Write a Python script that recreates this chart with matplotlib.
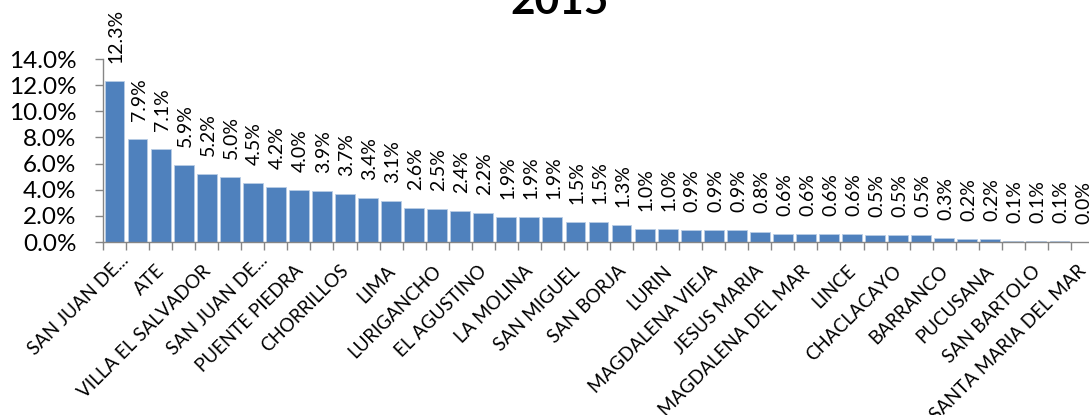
import matplotlib
matplotlib.use("Agg")
import matplotlib.pyplot as plt
from matplotlib.ticker import FuncFormatter, MultipleLocator, FixedLocator
import matplotlib.transforms as mtransforms

values = [12.3, 7.9, 7.1, 5.9, 5.2, 5.0, 4.5, 4.2, 4.0, 3.9, 3.7, 3.4,
          3.1, 2.6, 2.5, 2.4, 2.2, 1.9, 1.9, 1.9, 1.5, 1.5, 1.3, 1.0, 1.0, 0.9, 0.9,
          0.9, 0.8, 0.6, 0.6, 0.6, 0.6, 0.5, 0.5, 0.5, 0.3, 0.2, 0.2, 0.1, 0.1, 0.1, 0.0]
shown_labels = ["SAN JUAN DE...", "ATE", "VILLA EL SALVADOR", "SAN JUAN DE...",
                "PUENTE PIEDRA", "CHORRILLOS", "LIMA", "LURIGANCHO", "EL AGUSTINO",
                "LA MOLINA", "SAN MIGUEL", "SAN BORJA", "LURIN", "MAGDALENA VIEJA",
                "JESUS MARIA", "MAGDALENA DEL MAR", "LINCE", "CHACLACAYO", "BARRANCO",
                "PUCUSANA", "SAN BARTOLO", "SANTA MARIA DEL MAR"]
title = "2015"

plt.rcParams['font.family'] = ['Lato', 'DejaVu Sans']

W, H = 1089, 415
DPI = 100
fig = plt.figure(figsize=(W / DPI, H / DPI), dpi=DPI)
left, right, top, bottom = 103, 1094, 59, 242
ax = fig.add_axes([left / W, 1 - bottom / H, (right - left) / W, (bottom - top) / H])

n = len(values)
x = list(range(n))
ax.bar(x, values, width=0.86, color="#4F81BD", edgecolor="#B9CDE5", linewidth=0.6, zorder=2)

for xi, v in zip(x, values):
    ax.annotate(f"{v:.1f}%", (xi, v), xytext=(1.2, 13), textcoords="offset points",
                rotation=90, ha="center", va="bottom", fontsize=14, color="black")

ax.set_xlim(-0.5, n - 0.5)
ax.set_ylim(0, 14)
ax.yaxis.set_major_locator(MultipleLocator(2))
ax.yaxis.set_major_formatter(FuncFormatter(lambda v, p: f"{v:.1f}%"))
ax.tick_params(axis="y", labelsize=17.5, length=6, width=1, color="#868686", pad=13)

# category tick marks at bar boundaries, labels on every other category
ax.xaxis.set_major_locator(FixedLocator([i - 0.5 for i in range(n + 1)]))
ax.xaxis.set_major_formatter(FuncFormatter(lambda v, p: ""))
ax.tick_params(axis="x", which="major", length=6, width=1, color="#868686")
label_pos = list(range(0, n, 2))
ax.xaxis.set_minor_locator(FixedLocator(label_pos))
ax.set_xticklabels(shown_labels, minor=True)
ax.tick_params(axis="x", which="minor", length=0, labelsize=13.5, pad=0)
for lab in ax.get_xticklabels(minor=True):
    dx, dy = 5, -30
    if lab.get_text().endswith("..."):
        dx, dy = dx + 10.5, dy + 10.5
    off = mtransforms.ScaledTranslation(dx / DPI, dy / DPI, fig.dpi_scale_trans)
    lab.set_rotation(45)
    lab.set_ha("right")
    lab.set_va("baseline")
    lab.set_rotation_mode("anchor")
    lab.set_transform(lab.get_transform() + off)

for s in ["top", "right"]:
    ax.spines[s].set_visible(False)
for s in ["left", "bottom"]:
    ax.spines[s].set_color("#868686")
    ax.spines[s].set_linewidth(1)

fig.text(560 / W, 1 - (2) / H, title, ha="center", va="center", fontsize=30.5, fontweight="bold")

fig.savefig("out.png", dpi=DPI)
